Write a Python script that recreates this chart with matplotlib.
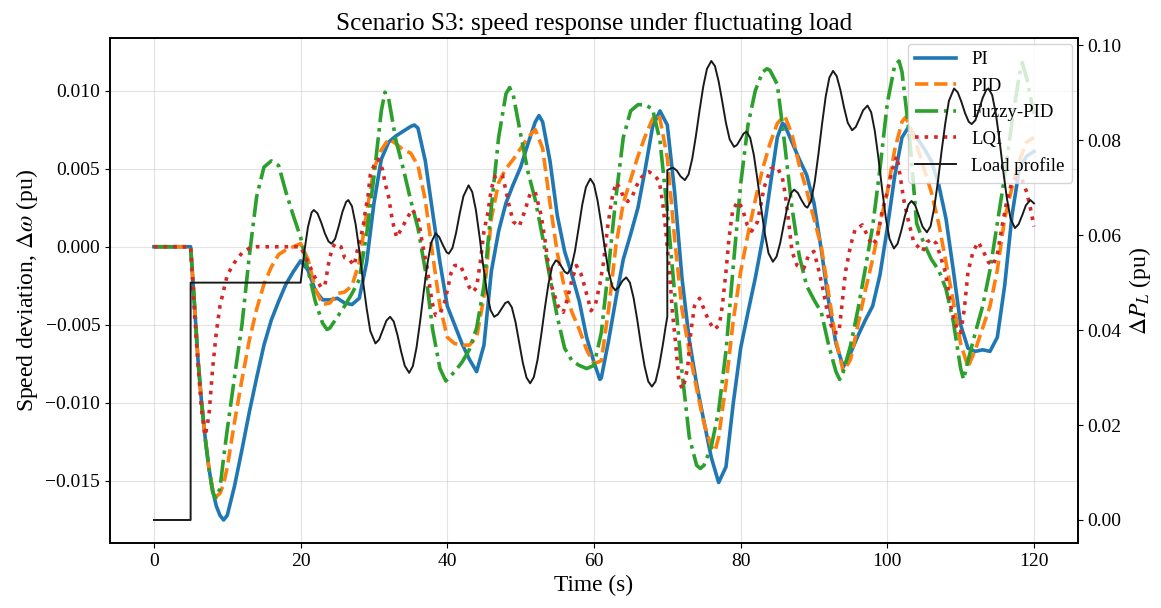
import matplotlib
matplotlib.use("Agg")
import matplotlib.pyplot as plt

plt.rcParams['font.family'] = ['Liberation Serif', 'DejaVu Serif']
plt.rcParams['mathtext.fontset'] = 'stix'
plt.rcParams['axes.linewidth'] = 1.2

# ---------------- data ----------------
t_pi = [0, 5, 5.5, 6, 6.5, 7, 7.5, 8, 8.5, 9, 9.5, 10, 11, 12, 13, 14, 15, 16, 17, 18, 19, 20,
        21, 22, 23, 24, 25, 26, 27, 28, 29, 30, 31, 32, 33, 34, 35, 35.5, 36, 37, 38, 39, 40,
        41, 42, 43, 44, 45, 46, 47, 48, 49, 50, 51, 52, 52.5, 53, 54, 55, 56, 57, 58, 59, 60,
        60.8, 61, 62, 63, 64, 65, 66, 67, 68, 69, 70, 71, 72, 73, 74, 75, 76, 77, 78, 79, 80,
        81, 82, 83, 84, 85, 85.7, 86, 87, 88, 89, 90, 91, 92, 93, 94, 95, 96, 97, 98, 99, 100,
        101, 102, 102.8, 104, 105, 106, 107, 108, 109, 110, 111, 112, 113, 114, 115, 116, 117,
        118, 119, 120]
pi = [0, 0, -0.0035, -0.0072, -0.0100, -0.0123, -0.0142, -0.0156, -0.0166, -0.0172, -0.0175,
      -0.0172, -0.0153, -0.0130, -0.0106, -0.0084, -0.0063, -0.0047, -0.0035, -0.0024, -0.0016,
      -0.0009, -0.0015, -0.0028, -0.0034, -0.0034, -0.0033, -0.0036, -0.0037, -0.0033, -0.0010,
      0.0028, 0.0056, 0.0067, 0.0071, 0.0074, 0.0077, 0.0078, 0.0076, 0.0055, 0.0022, -0.0010,
      -0.0038, -0.0050, -0.0062, -0.0072, -0.0080, -0.0063, -0.0016, 0.0010, 0.0028, 0.0040,
      0.0051, 0.0066, 0.0080, 0.0084, 0.0080, 0.0055, 0.0020, -0.0003, -0.0018, -0.0035,
      -0.0058, -0.0074, -0.0085, -0.0084, -0.0060, -0.0033, -0.0008, 0.0008, 0.0025, 0.0050,
      0.0077, 0.0087, 0.0078, 0.0035, -0.0020, -0.0060, -0.0088, -0.0112, -0.0135, -0.0151,
      -0.0141, -0.0100, -0.0065, -0.0042, -0.0020, 0.0005, 0.0038, 0.0070, 0.0079, 0.0078,
      0.0067, 0.0056, 0.0046, 0.0028, -0.0002, -0.0035, -0.0062, -0.0077, -0.0068, -0.0057,
      -0.0047, -0.0038, -0.0018, 0.0012, 0.0045, 0.0070, 0.0076, 0.0070, 0.0063, 0.0055,
      0.0040, 0.0018, -0.0015, -0.0050, -0.0065, -0.0067, -0.0066, -0.0067, -0.0058, -0.0025,
      0.0020, 0.0050, 0.0058, 0.0061]

t_pid = [0, 5, 5.5, 6, 6.5, 7, 7.5, 8, 8.5, 9, 9.5, 10, 11, 12, 13, 14, 15, 16, 17, 18, 19, 20,
         21, 22, 23, 24, 25, 26, 27, 28, 29, 30, 31, 32, 33, 34, 35, 36, 37, 38, 39, 40, 41, 42,
         43, 44, 45, 46, 47, 48, 49, 50, 51, 52, 53, 54, 55, 56, 57, 58, 59, 60, 61, 62, 63, 64,
         65, 66, 67, 68, 68.6, 69, 70, 71, 72, 73, 74, 75, 76, 76.5, 77, 78, 79, 80, 81, 82, 83,
         84, 85, 86, 87, 88, 89, 90, 91, 92, 93, 94, 95, 96, 97, 98, 99, 100, 101, 102, 102.5,
         103, 104, 105, 106, 107, 108, 109, 110, 111, 112, 113, 114, 115, 116, 117, 118, 119, 120]
pid = [0, 0, -0.0035, -0.0072, -0.0100, -0.0123, -0.0142, -0.0155, -0.0160, -0.0158, -0.0152,
       -0.0141, -0.0112, -0.0085, -0.0060, -0.0040, -0.0024, -0.0013, -0.0005, -0.0002, 0.0000,
       0.0002, -0.0008, -0.0027, -0.0037, -0.0036, -0.0030, -0.0029, -0.0025, -0.0010, 0.0022,
       0.0050, 0.0062, 0.0069, 0.0066, 0.0062, 0.0060, 0.0052, 0.0030, -0.0005, -0.0038,
       -0.0058, -0.0062, -0.0063, -0.0063, -0.0058, -0.0032, 0.0018, 0.0041, 0.0050, 0.0056,
       0.0063, 0.0070, 0.0075, 0.0063, 0.0028, -0.0004, -0.0027, -0.0042, -0.0053, -0.0066,
       -0.0075, -0.0073, -0.0040, 0.0001, 0.0028, 0.0043, 0.0058, 0.0071, 0.0082, 0.0085,
       0.0082, 0.0057, 0.0005, -0.0040, -0.0067, -0.0091, -0.0113, -0.0128, -0.0131, -0.0122,
       -0.0088, -0.0047, -0.0016, 0.0008, 0.0030, 0.0050, 0.0066, 0.0079, 0.0084, 0.0072,
       0.0052, 0.0036, 0.0018, 0.0000, -0.0030, -0.0060, -0.0080, -0.0072, -0.0050, -0.0028,
       -0.0008, 0.0015, 0.0035, 0.0062, 0.0080, 0.0083, 0.0078, 0.0065, 0.0050, 0.0035, 0.0015,
       -0.0010, -0.0035, -0.0062, -0.0077, -0.0066, -0.0052, -0.0038, -0.0015, 0.0018, 0.0038,
       0.0055, 0.0067, 0.0070]

t_fuzzy = [0, 5, 5.5, 6, 6.5, 7, 7.5, 8, 8.4, 9, 9.5, 10, 11, 12, 13, 14, 15, 16, 17, 18, 19, 20,
           21, 22, 23, 23.6, 24, 25, 26, 27, 28, 29, 30, 31, 31.5, 32, 33, 34, 35, 36, 37, 38, 39,
           39.8, 41, 42, 43, 44, 45, 46, 47, 48, 48.5, 49, 50, 51, 52, 53, 54, 55, 56, 57, 58, 59,
           60, 61, 62, 63, 64, 65, 66, 67, 68, 69, 70, 71, 72, 73, 74, 74.5, 75, 76, 77, 78, 79,
           80, 81, 82, 83, 83.6, 84, 85, 86, 87, 88, 89, 90, 91, 92, 93, 93.5, 94, 95, 96, 97, 98,
           99, 100, 101, 101.6, 102, 103, 104, 105, 106, 107, 108, 109, 110, 110.4, 111, 112, 113,
           114, 115, 116, 117, 118, 118.4, 119, 120]
fuzzy = [0, 0, -0.0035, -0.0072, -0.0100, -0.0123, -0.0142, -0.0157, -0.0161, -0.0155, -0.0135,
         -0.0117, -0.0083, -0.0050, -0.0006, 0.0032, 0.0051, 0.0055, 0.0052, 0.0035, 0.0020,
         0.0006, -0.0015, -0.0035, -0.0049, -0.0053, -0.0052, -0.0045, -0.0038, -0.0030, -0.0021,
         0.0008, 0.0045, 0.0087, 0.0099, 0.0095, 0.0068, 0.0050, 0.0030, 0.0012, -0.0015,
         -0.0053, -0.0078, -0.0086, -0.0080, -0.0074, -0.0066, -0.0052, -0.0025, 0.0025, 0.0070,
         0.0098, 0.0102, 0.0097, 0.0072, 0.0048, 0.0030, 0.0006, -0.0020, -0.0045, -0.0065,
         -0.0073, -0.0076, -0.0078, -0.0076, -0.0055, -0.0013, 0.0032, 0.0070, 0.0087, 0.0091,
         0.0091, 0.0088, 0.0068, 0.0023, -0.0030, -0.0080, -0.0122, -0.0140, -0.0142, -0.0140,
         -0.0128, -0.0105, -0.0067, -0.0012, 0.0040, 0.0078, 0.0100, 0.0112, 0.0114, 0.0113,
         0.0104, 0.0066, 0.0025, -0.0006, -0.0025, -0.0034, -0.0042, -0.0063, -0.0080, -0.0085,
         -0.0080, -0.0063, -0.0040, -0.0014, 0.0013, 0.0050, 0.0092, 0.0116, 0.0119, 0.0112,
         0.0072, 0.0015, 0.0002, -0.0008, -0.0015, -0.0027, -0.0048, -0.0078, -0.0085, -0.0073,
         -0.0055, -0.0038, -0.0015, 0.0015, 0.0045, 0.0080, 0.0110, 0.0118, 0.0108, 0.0085]

t_lqi = [0, 5, 5.5, 6, 6.5, 7, 7.5, 8, 8.5, 9, 10, 11, 12, 13, 14, 20, 21, 22, 22.8, 23.3, 23.8,
         24.3, 24.7, 25.5, 26.0, 26.6, 27.3, 27.6, 28.0, 28.5, 28.8, 29.2, 29.5, 30.0, 30.6, 31.2,
         31.5, 32.0, 32.4, 32.7, 33.1, 33.8, 34.5, 35.2, 35.6, 36.1, 36.5, 36.8, 37.2, 37.9, 38.4,
         39.0, 39.6, 40.0, 40.5, 41.0, 41.8, 42.5, 43.0, 43.5, 44.0, 44.5, 45.0, 45.5, 46.0, 46.5,
         47.0, 47.5, 48.0, 48.5, 49.0, 49.8, 50.5, 51.3, 52.0, 52.8, 53.3, 53.8, 54.2, 55.1, 55.8,
         56.4, 56.9, 57.6, 58.2, 58.7, 59.6, 60.2, 60.8, 61.3, 61.9, 62.5, 63.0, 63.5, 64.0, 64.6,
         65.2, 65.8, 66.4, 67.0, 67.5, 68.2, 68.9, 69.4, 69.8, 70.3, 70.7, 71.2, 71.6, 72.1, 72.5,
         72.8, 73.2, 73.7, 74.4, 75.0, 75.7, 76.4, 77.1, 77.5, 78.0, 78.4, 78.9, 79.6, 80.2, 80.9,
         81.5, 82.3, 83.2, 84.1, 85.0, 85.7, 86.1, 86.6, 87.0, 87.7, 88.6, 89.3, 90.0, 90.7, 91.3,
         92.0, 92.7, 93.4, 93.8, 94.3, 95.0, 95.6, 96.6, 97.2, 97.9, 98.6, 99.3, 100.0, 100.6,
         101.3, 101.8, 102.2, 102.9, 103.6, 104.8, 105.4, 106.1, 106.7, 107.9, 108.8, 109.5,
         110.0, 110.5, 111.0, 111.7, 112.4, 113.1, 113.8, 114.4, 115.0, 115.6, 116.2, 116.9,
         117.6, 118.3, 119.0, 119.5, 120.0]
lqi = [0, 0, -0.0040, -0.0075, -0.0105, -0.0121, -0.0108, -0.0078, -0.0055, -0.0038, -0.0018,
       -0.0010, -0.0004, -0.0001, 0.0000, 0.0000, -0.0010, -0.0020, -0.0026, -0.0025, -0.0011,
       -0.0001, 0.0002, 0.0000, -0.0007, -0.0008, -0.0012, -0.0005, 0.0003, 0.0012, 0.0022,
       0.0033, 0.0046, 0.0052, 0.0056, 0.0049, 0.0041, 0.0032, 0.0020, 0.0013, 0.0006, 0.0012,
       0.0018, 0.0024, 0.0021, 0.0017, 0.0005, -0.0003, -0.0012, -0.0035, -0.0044, -0.0043,
       -0.0036, -0.0028, -0.0017, -0.0012, -0.0012, -0.0020, -0.0026, -0.0029, -0.0026, -0.0010,
       0.0010, 0.0021, 0.0037, 0.0045, 0.0046, 0.0046, 0.0036, 0.0025, 0.0016, 0.0013, 0.0022,
       0.0034, 0.0035, 0.0020, 0.0005, -0.0012, -0.0025, -0.0038, -0.0042, -0.0033, -0.0023,
       -0.0012, -0.0017, -0.0025, -0.0041, -0.0037, -0.0024, -0.0010, 0.0014, 0.0032, 0.0041,
       0.0038, 0.0032, 0.0029, 0.0032, 0.0039, 0.0044, 0.0047, 0.0048, 0.0046, 0.0042, 0.0027,
       0.0010, -0.0016, -0.0042, -0.0065, -0.0087, -0.0091, -0.0084, -0.0076, -0.0055, -0.0038,
       -0.0033, -0.0040, -0.0048, -0.0053, -0.0050, -0.0038, -0.0016, 0.0005, 0.0023, 0.0029,
       0.0025, 0.0014, 0.0010, 0.0016, 0.0038, 0.0050, 0.0051, 0.0044, 0.0033, 0.0014, -0.0003,
       -0.0012, -0.0014, -0.0005, -0.0003, -0.0016, -0.0029, -0.0046, -0.0055, -0.0055, -0.0038,
       -0.0016, 0.0001, 0.0011, 0.0014, 0.0008, 0.0001, 0.0005, 0.0023, 0.0035, 0.0048, 0.0058,
       0.0044, 0.0031, 0.0016, 0.0003, -0.0003, 0.0003, 0.0005, 0.0002, -0.0016, -0.0042,
       -0.0053, -0.0055, -0.0040, -0.0016, -0.0003, 0.0003, -0.0003, -0.0010, -0.0012, -0.0005,
       0.0012, 0.0027, 0.0040, 0.0044, 0.0044, 0.0035, 0.0025, 0.0013]

t_load = [0, 5, 5, 20, 20.5, 21.0, 21.5, 21.8, 22.3, 22.8, 23.3, 23.8, 24.2, 24.7, 25.2, 25.7,
          26.2, 26.5, 27.0, 27.5, 28.0, 28.5, 29.0, 29.5, 30.2, 30.7, 31.2, 31.7, 32.2, 32.7,
          33.2, 33.7, 34.2, 34.8, 35.3, 35.8, 36.3, 36.8, 37.3, 37.8, 38.4, 38.9, 39.4, 39.9,
          40.2, 40.7, 41.2, 41.7, 42.2, 42.9, 43.4, 43.9, 44.4, 44.9, 45.4, 45.9, 46.4, 46.9,
          47.4, 47.9, 48.3, 48.8, 49.3, 49.8, 50.3, 50.8, 51.3, 51.8, 52.3, 52.8, 53.3, 53.8,
          54.3, 54.8, 55.2, 55.6, 56.0, 56.4, 56.9, 57.4, 57.9, 58.4, 58.9, 59.5, 60.0, 60.5,
          61.0, 61.5, 62.0, 62.5, 62.9, 63.4, 63.9, 64.4, 64.9, 65.4, 65.9, 66.4, 66.9, 67.4,
          67.9, 68.4, 68.9, 69.4, 69.8, 70.0, 70.0, 70.4, 70.8, 71.3, 71.8, 72.4, 72.9, 73.4,
          73.9, 74.4, 74.9, 75.4, 76.0, 76.5, 77.0, 77.5, 78.0, 78.5, 79.1, 79.5, 80.0, 80.4,
          80.8, 81.3, 81.8, 82.3, 82.8, 83.3, 83.8, 84.4, 84.9, 85.4, 85.9, 86.4, 86.9, 87.3,
          87.8, 88.3, 88.8, 89.1, 89.6, 90.1, 90.6, 91.1, 91.6, 92.1, 92.6, 93.1, 93.6, 94.1,
          94.6, 95.2, 95.7, 96.2, 96.7, 97.3, 97.8, 98.3, 98.8, 99.3, 99.8, 100.3, 100.9, 101.4,
          101.9, 102.4, 102.9, 103.3, 103.8, 104.3, 104.8, 105.4, 105.9, 106.4, 106.9, 107.4,
          107.9, 108.4, 109.1, 109.6, 110.1, 110.6, 111.1, 111.5, 112.0, 112.5, 113.0, 113.5,
          113.8, 114.3, 114.8, 115.3, 115.8, 116.3, 116.8, 117.4, 117.9, 118.4, 118.9, 119.5, 120.0]
load = [0.0, 0.0, 0.0500, 0.0500, 0.0565, 0.0617, 0.0648, 0.0653, 0.0646, 0.0627, 0.0604, 0.0587,
        0.0582, 0.0592, 0.0619, 0.0649, 0.0670, 0.0674, 0.0661, 0.0623, 0.0568, 0.0504, 0.0446,
        0.0398, 0.0372, 0.0380, 0.0400, 0.0420, 0.0428, 0.0418, 0.0390, 0.0355, 0.0325, 0.0310,
        0.0324, 0.0363, 0.0419, 0.0483, 0.0541, 0.0584, 0.0604, 0.0596, 0.0579, 0.0564, 0.0561,
        0.0573, 0.0605, 0.0646, 0.0682, 0.0705, 0.0691, 0.0653, 0.0597, 0.0536, 0.0480, 0.0442,
        0.0428, 0.0433, 0.0445, 0.0457, 0.0460, 0.0448, 0.0417, 0.0374, 0.0331, 0.0300, 0.0288,
        0.0301, 0.0337, 0.0389, 0.0446, 0.0498, 0.0534, 0.0547, 0.0543, 0.0533, 0.0523, 0.0519,
        0.0531, 0.0566, 0.0614, 0.0664, 0.0701, 0.0719, 0.0707, 0.0672, 0.0623, 0.0570, 0.0523,
        0.0492, 0.0484, 0.0491, 0.0504, 0.0511, 0.0500, 0.0468, 0.0422, 0.0370, 0.0324, 0.0292,
        0.0281, 0.0292, 0.0325, 0.0370, 0.0410, 0.0428, 0.0737, 0.0740, 0.0742, 0.0736, 0.0724,
        0.0716, 0.0728, 0.0761, 0.0809, 0.0863, 0.0913, 0.0950, 0.0967, 0.0956, 0.0924, 0.0881,
        0.0836, 0.0802, 0.0786, 0.0790, 0.0803, 0.0814, 0.0818, 0.0805, 0.0769, 0.0716, 0.0657,
        0.0603, 0.0562, 0.0544, 0.0555, 0.0584, 0.0624, 0.0662, 0.0689, 0.0696, 0.0689, 0.0674,
        0.0661, 0.0658, 0.0672, 0.0712, 0.0770, 0.0834, 0.0892, 0.0932, 0.0946, 0.0935, 0.0906,
        0.0869, 0.0837, 0.0821, 0.0828, 0.0845, 0.0863, 0.0873, 0.0859, 0.0819, 0.0761, 0.0696,
        0.0636, 0.0592, 0.0572, 0.0582, 0.0609, 0.0641, 0.0665, 0.0672, 0.0663, 0.0641, 0.0618,
        0.0606, 0.0619, 0.0658, 0.0713, 0.0777, 0.0835, 0.0883, 0.0909, 0.0901, 0.0881, 0.0857,
        0.0839, 0.0834, 0.0842, 0.0864, 0.0889, 0.0906, 0.0909, 0.0895, 0.0856, 0.0800, 0.0736,
        0.0678, 0.0635, 0.0615, 0.0623, 0.0642, 0.0663, 0.0674, 0.0667]

labels = ["PI", "PID", "Fuzzy-PID", "LQI", "Load profile"]
x_ticks = [0, 20, 40, 60, 80, 100, 120]

# ---------------- plot ----------------
fig = plt.figure(figsize=(11.61, 6.08), dpi=100)
ax1 = fig.add_subplot(111)
fig.subplots_adjust(left=0.0947, right=0.9285, top=0.9375, bottom=0.107)

l1, = ax1.plot(t_pi, pi, color='#1f77b4', lw=2.6, ls='-', label=labels[0])
l2, = ax1.plot(t_pid, pid, color='#ff7f0e', lw=2.6, ls='--', label=labels[1])
l3, = ax1.plot(t_fuzzy, fuzzy, color='#2ca02c', lw=2.6, ls='-.', label=labels[2])
l4, = ax1.plot(t_lqi, lqi, color='#d62728', lw=2.6, ls=':', label=labels[3])
ax1.set_xticks(x_ticks)
ax1.grid(True, color='#b0b0b0', alpha=0.35, lw=0.8)
ax1.set_xlabel("Time (s)", fontsize=16.8)
ax1.set_ylabel(r"Speed deviation, $\Delta\omega$ (pu)", fontsize=17)
ax1.set_title("Scenario S3: speed response under fluctuating load", fontsize=18.2)
ax1.tick_params(labelsize=14)

ax2 = ax1.twinx()
l5, = ax2.plot(t_load, load, color='#1a1a1a', lw=1.4, label=labels[4])
ax2.set_ylabel(r"$\Delta P_L$ (pu)", fontsize=17)
ax2.tick_params(labelsize=14)

ax1.legend([l1, l2, l3, l4, l5], labels, loc='upper right', fontsize=13.5,
           handlelength=2.2, borderaxespad=0.3)

fig.savefig("out.png", dpi=100)
